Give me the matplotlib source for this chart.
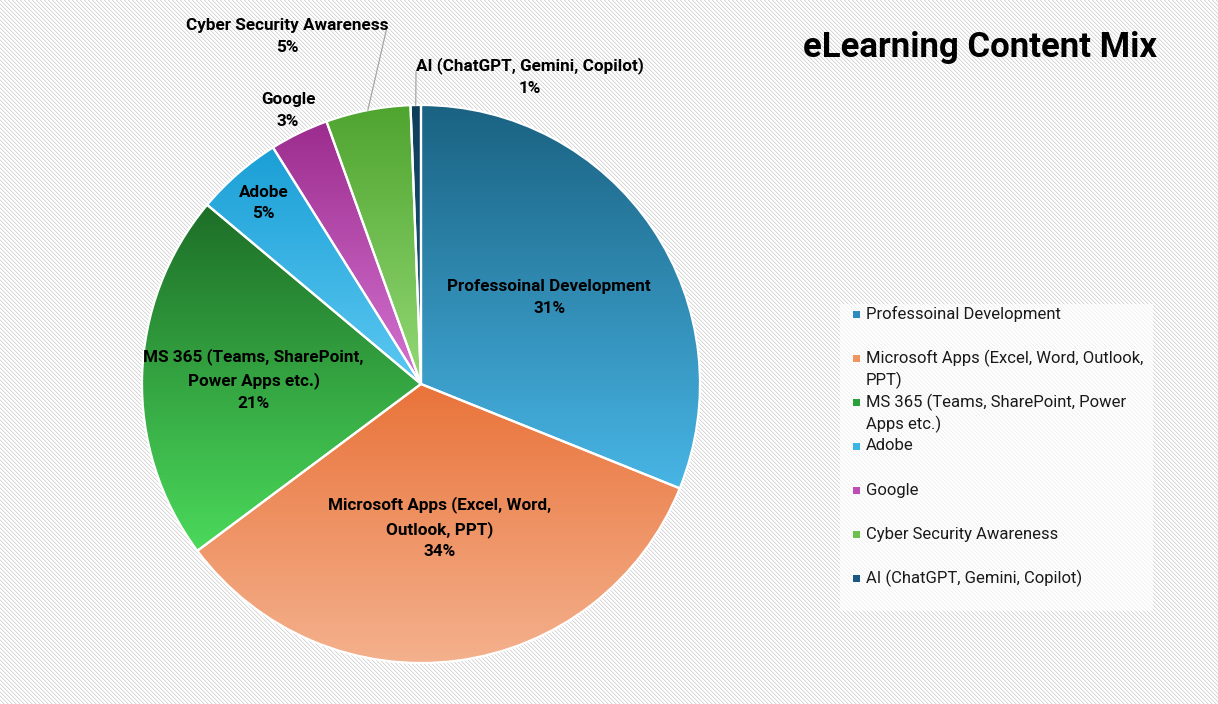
import numpy as np
import matplotlib
matplotlib.use("Agg")
import matplotlib.pyplot as plt
from matplotlib.patches import Rectangle
from matplotlib.colors import to_rgb

# ---------------- data ----------------
categories = ["Professoinal Development",
              "Microsoft Apps (Excel, Word, Outlook, PPT)",
              "MS 365 (Teams, SharePoint, Power Apps etc.)",
              "Adobe", "Google", "Cyber Security Awareness",
              "AI (ChatGPT, Gemini, Copilot)"]
values = [31.1, 33.7, 21.3, 5.0, 3.4, 4.9, 0.6]

slice_labels = ["Professoinal Development",
                "Microsoft Apps (Excel, Word,\nOutlook, PPT)",
                "MS 365 (Teams, SharePoint,\nPower Apps etc.)",
                "Adobe", "Google", "Cyber Security Awareness",
                "AI (ChatGPT, Gemini, Copilot)"]
legend_lines = [["Professoinal Development"],
                ["Microsoft Apps (Excel, Word, Outlook,", "PPT)"],
                ["MS 365 (Teams, SharePoint, Power", "Apps etc.)"],
                ["Adobe"], ["Google"], ["Cyber Security Awareness"],
                ["AI (ChatGPT, Gemini, Copilot)"]]
title = "eLearning Content Mix"

# ---------------- style ----------------
grad_top = ["#1a6282", "#e9733a", "#1d6e27", "#1a9fd6", "#9c2c8e", "#4fa42f", "#0e3d58"]
grad_bot = ["#48b5e5", "#f4b18d", "#4bd95b", "#5cc8f2", "#d474d2", "#93d975", "#1a5a80"]
legend_colors = ["#2e8bbd", "#f0955f", "#2aa03a", "#3bb5e5", "#c04cb8", "#6cc04c", "#1a5a82"]
# label placement: (radius fraction, angle in degrees or None for mid-angle)
label_place = [(0.555, None), (0.52, None), (0.60, None), (0.86, None),
               (1.09, None), (1.335, 111.0), (1.17, 70.5)]
leader = {5: (387, 27), 6: (416, 72)}   # end points (px from top-left) of leader lines

W, H = 1218, 704
FONT = ["Roboto", "DejaVu Sans"]
plt.rcParams["font.family"] = FONT

fig = plt.figure(figsize=(W / 100, H / 100), dpi=100)
fig.patch.set_facecolor("white")
ax = fig.add_axes([0, 0, 1, 1])
ax.set_axis_off()

# background diagonal hatch
rr, cc = np.mgrid[0:H, 0:W]
m = (cc - rr) % 4
hatch = np.full((H, W), 1.0)
hatch[m == 0] = 0.84
hatch[m == 1] = 0.95
ax.imshow(np.dstack([hatch] * 3), extent=[0, W, 0, H], origin="upper",
          zorder=0, interpolation="nearest")

cx, cy, R = 421, H - 384, 279
wedges, _ = ax.pie(values, startangle=90, counterclock=False, center=(cx, cy),
                   radius=R, frame=True,
                   wedgeprops=dict(edgecolor="white", linewidth=1.6))

for i, w in enumerate(wedges):
    w.set_facecolor("none")
    w.set_zorder(3)
    bb = w.get_path().get_extents()
    c1, c2 = np.array(to_rgb(grad_top[i])), np.array(to_rgb(grad_bot[i]))
    t = np.linspace(0, 1, 256)[:, None]
    g = (c1[None, :] * (1 - t) + c2[None, :] * t)[:, None, :]
    im = ax.imshow(g, extent=[bb.x0, bb.x1, bb.y0, bb.y1], origin="upper",
                   aspect="auto", interpolation="bilinear", zorder=2)
    im.set_clip_path(w)

    r_frac, ang = label_place[i]
    mid = 0.5 * (w.theta1 + w.theta2)
    a = np.deg2rad(mid if ang is None else ang)
    lx, ly = cx + r_frac * R * np.cos(a), cy + r_frac * R * np.sin(a)
    pct = f"{round(values[i]):.0f}%"
    ax.text(lx, ly, slice_labels[i] + "\n" + pct, ha="center", va="center",
            fontsize=12.3, fontweight="bold", color="black", linespacing=1.55,
            zorder=5)
    if i in leader:
        am = np.deg2rad(mid)
        ex, ey = leader[i]
        ax.plot([cx + R * np.cos(am), ex], [cy + R * np.sin(am), H - ey],
                color="#a6a6a6", lw=0.9, zorder=4)

# title
ax.text(1157, H - 48, title, ha="right", va="center", fontsize=25,
        fontweight="bold", color="black", zorder=5)

# legend (manual, Excel-like)
ax.add_patch(Rectangle((840, H - 611), 313, 307, facecolor="white", alpha=0.65,
                       edgecolor="none", zorder=4))
for i, lines in enumerate(legend_lines):
    y0 = 314 + 44 * i
    ax.add_patch(Rectangle((853, H - y0 - 3.5), 7, 7, facecolor=legend_colors[i],
                           edgecolor="none", zorder=5))
    for j, ln in enumerate(lines):
        ax.text(866, H - (y0 + 22.5 * j), ln, ha="left", va="center",
                fontsize=12, color="#1a1a1a", zorder=5)

ax.set_xlim(0, W)
ax.set_ylim(0, H)
ax.set_aspect("equal")
fig.savefig("out.png", dpi=100, facecolor="white")
